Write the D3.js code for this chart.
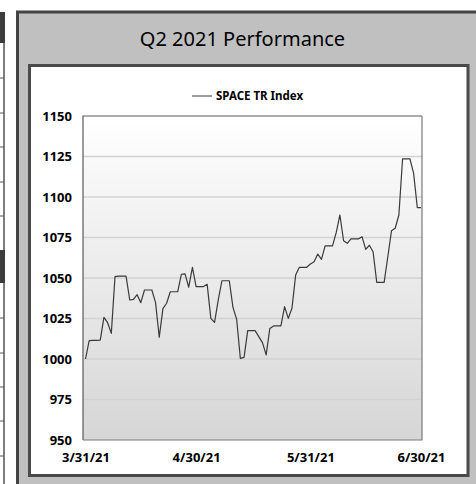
<!DOCTYPE html>
<html>
<head>
<meta charset="utf-8">
<script src="https://cdn.jsdelivr.net/npm/d3@7"></script>
<style>
body { margin: 0; background: #fff; }
svg { display: block; }
</style>
</head>
<body>
<div id="chart"></div>
<script>

/* chart data, one value per calendar day 3/31/21 .. 6/30/21 */
var startDay = new Date(2021, 2, 31);
var endDay = new Date(2021, 5, 30);
var seriesName = "SPACE TR Index";
var indexValues = [
    1000.0, 1011.3, 1011.5, 1011.5, 1011.7, 1025.7, 1022.4, 1015.8, 1050.8, 1051.2,
    1051.2, 1051.2, 1036.4, 1036.8, 1039.7, 1034.8, 1042.6, 1042.6, 1042.6, 1034.8,
    1013.4, 1031.1, 1034.4, 1041.5, 1041.5, 1041.5, 1052.3, 1052.5, 1044.3, 1056.6,
    1044.7, 1044.7, 1044.7, 1046.1, 1025.1, 1022.6, 1036.4, 1048.3, 1048.3, 1048.3,
    1031.9, 1024.5, 1000.4, 1001.0, 1017.5, 1017.5, 1017.5, 1013.8, 1010.1, 1002.5,
    1018.9, 1020.4, 1020.4, 1020.4, 1032.3, 1025.1, 1031.3, 1051.8, 1056.6, 1056.6,
    1056.6, 1058.6, 1060.0, 1064.8, 1061.5, 1069.8, 1069.8, 1069.8, 1078.0, 1088.9,
    1073.0, 1071.4, 1074.1, 1074.1, 1074.1, 1075.5, 1067.7, 1070.2, 1066.2, 1047.3,
    1047.3, 1047.3, 1063.1, 1079.2, 1080.7, 1088.9, 1123.5, 1123.5, 1123.5, 1114.6,
    1093.4, 1093.4
];
var yTicks = [950, 975, 1000, 1025, 1050, 1075, 1100, 1125, 1150];
var xTickLabels = ["3/31/21", "4/30/21", "5/31/21", "6/30/21"];
var title = "Q2 2021 Performance";

var days = d3.timeDay.range(startDay, d3.timeDay.offset(endDay, 1));
var data = days.map(function(d, i){ return {date: d, value: indexValues[i]}; });
var xTickDates = xTickLabels.map(d3.timeParse("%m/%d/%y"));

var W = 476, H = 484;
var plot = {left: 83, top: 116, right: 422, bottom: 440};

var svg = d3.select("#chart")
        .append("svg")
        .attr("width", W)
        .attr("height", H);

var defs = svg.append("defs");
var grad = defs.append("linearGradient")
    .attr("id", "plotbg")
    .attr("x1", 0).attr("y1", 0).attr("x2", 0).attr("y2", 1);
grad.append("stop").attr("offset", "0%").attr("stop-color", "#ffffff");
grad.append("stop").attr("offset", "100%").attr("stop-color", "#d6d6d6");

/* bits of the neighbouring table cut off at the left edge */
var leftRows = [78, 113, 147, 182, 216, 318, 353, 387, 421, 456];
var leftBlocks = [[12, 43], [250, 283]];
svg.selectAll("rect.lb").data(leftBlocks).enter().append("rect")
    .attr("x", 0).attr("width", 5)
    .attr("y", function(d){ return d[0]; })
    .attr("height", function(d){ return d[1] - d[0]; })
    .style("fill", "#3c3c3c");
svg.append("line")
    .attr("x1", 4).attr("x2", 4).attr("y1", 43).attr("y2", 250)
    .style("stroke", "#555").style("stroke-width", 1.5);
svg.append("line")
    .attr("x1", 4).attr("x2", 4).attr("y1", 283).attr("y2", H)
    .style("stroke", "#555").style("stroke-width", 1.5);
svg.selectAll("line.lr").data(leftRows).enter().append("line")
    .attr("x1", 0).attr("x2", 4)
    .attr("y1", function(d){ return d; }).attr("y2", function(d){ return d; })
    .style("stroke", "#555").style("stroke-width", 1);

/* grey outer panel and white inner panel */
svg.append("rect")
    .attr("x", 17.5).attr("y", 12)
    .attr("width", 480).attr("height", 490)
    .style("fill", "#c0c0c0")
    .style("stroke", "#444")
    .style("stroke-width", 3);

svg.append("rect")
    .attr("x", 29.5).attr("y", 65.5)
    .attr("width", 438.5).attr("height", 410)
    .style("fill", "#fff")
    .style("stroke", "#4a4a4a")
    .style("stroke-width", 3);

svg.append("text")
    .attr("x", 242.5).attr("y", 46)
    .attr("text-anchor", "middle")
    .style("font-family", "'Noto Sans', sans-serif")
    .style("font-size", "20px")
    .style("fill", "#000")
    .text(title);

var x = d3.scaleTime()
    .domain([startDay, endDay])
    .range([85.5, 421]);

var y = d3.scaleLinear()
    .domain([950, 1150])
    .range([plot.bottom, plot.top]);

svg.append("rect")
    .attr("x", plot.left).attr("y", plot.top)
    .attr("width", plot.right - plot.left)
    .attr("height", plot.bottom - plot.top)
    .style("fill", "url(#plotbg)");

svg.selectAll("line.grid")
    .data(yTicks.slice(1, -1))
    .enter().append("line")
    .attr("class", "grid")
    .attr("x1", plot.left).attr("x2", plot.right)
    .attr("y1", function(d){ return y(d); })
    .attr("y2", function(d){ return y(d); })
    .style("stroke", "#d2d2d2")
    .style("stroke-width", 1.3);

/* plot frame */
svg.append("path")
    .attr("d", "M" + plot.left + "," + plot.bottom + "V" + plot.top + "H" + plot.right)
    .style("fill", "none").style("stroke", "#5a5a5a").style("stroke-width", 1.2);
svg.append("path")
    .attr("d", "M" + plot.right + "," + plot.top + "V" + plot.bottom + "H" + plot.left)
    .style("fill", "none").style("stroke", "#7a7a7a").style("stroke-width", 1.2);

var line = d3.line()
    .x(function(d){ return x(d.date); })
    .y(function(d){ return y(d.value); });

svg.append("path")
    .datum(data)
    .attr("d", line)
    .style("fill", "none")
    .style("stroke", "#3a3a3a")
    .style("stroke-width", 1.2)
    .style("stroke-linejoin", "round");

var yAxis = svg.append("g")
    .attr("transform", "translate(" + plot.left + ",0)")
    .call(d3.axisLeft(y).tickValues(yTicks).tickSize(0).tickPadding(11)
        .tickFormat(d3.format("d")));

var xAxis = svg.append("g")
    .attr("transform", "translate(0," + plot.bottom + ")")
    .call(d3.axisBottom(x).tickValues(xTickDates).tickSize(0).tickPadding(13)
        .tickFormat(function(d, i){ return xTickLabels[i]; }));

[yAxis, xAxis].forEach(function(g){
    g.select(".domain").remove();
    g.selectAll("text")
        .style("font-family", "'Noto Sans', sans-serif")
        .style("font-weight", "bold")
        .style("font-size", "13px")
        .style("fill", "#000");
});

/* legend */
svg.append("line")
    .attr("x1", 192).attr("x2", 212).attr("y1", 96).attr("y2", 96)
    .style("stroke", "#3a3a3a").style("stroke-width", 1);
svg.append("text")
    .attr("x", 216).attr("y", 100)
    .style("font-family", "'Noto Sans', sans-serif")
    .style("font-weight", "bold")
    .style("font-size", "11.5px")
    .style("fill", "#000")
    .text(seriesName);

</script>
</body>
</html>
